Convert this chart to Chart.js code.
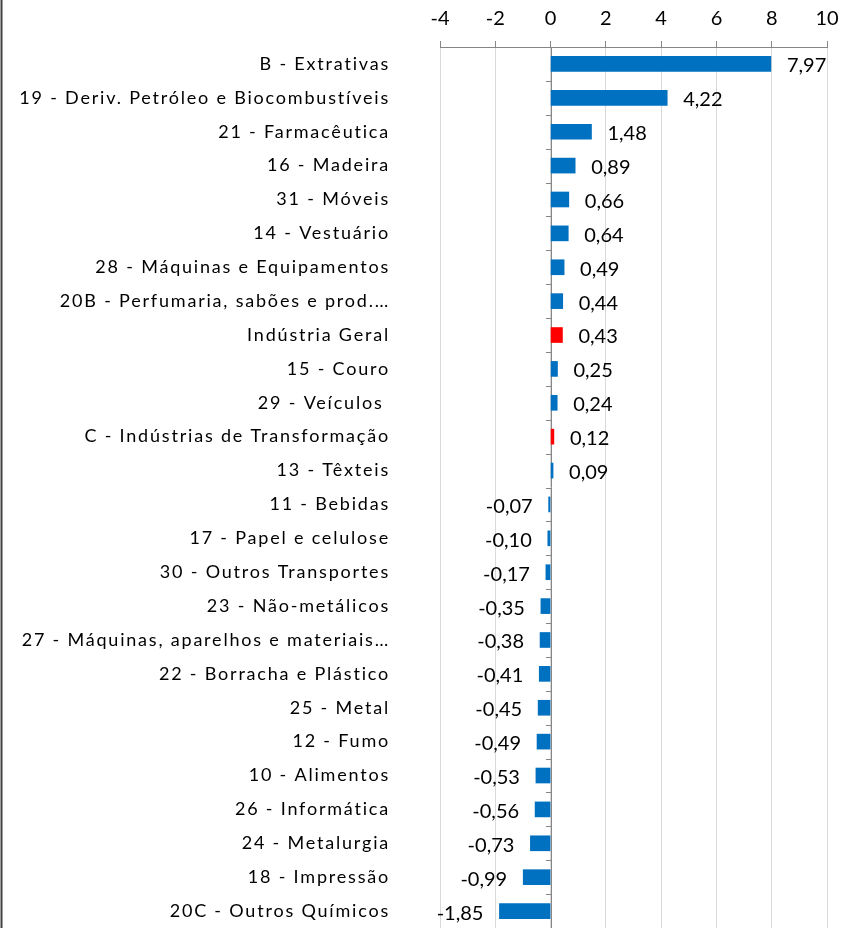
<!DOCTYPE html>
<html>
<head>
<meta charset="utf-8">
<script src="https://cdn.jsdelivr.net/npm/chart.js@4/dist/chart.umd.min.js"></script>
<style>
  html, body { margin: 0; padding: 0; background: #fff; overflow: hidden; }
  #wrap { width: 851px; height: 928px; position: relative; }
</style>
</head>
<body>
<div id="wrap"><canvas id="setores" width="851" height="928"></canvas></div>
<script>
const canvasId = 'setores';

const categories = [
    'B - Extrativas',
    '19 - Deriv. Petróleo e Biocombustíveis',
    '21 - Farmacêutica',
    '16 - Madeira',
    '31 - Móveis',
    '14 - Vestuário',
    '28 - Máquinas e Equipamentos',
    '20B - Perfumaria, sabões e prod.…',
    'Indústria Geral',
    '15 - Couro',
    '29 - Veículos ',
    'C - Indústrias de Transformação',
    '13 - Têxteis',
    '11 - Bebidas',
    '17 - Papel e celulose',
    '30 - Outros Transportes',
    '23 - Não-metálicos',
    '27 - Máquinas, aparelhos e materiais…',
    '22 - Borracha e Plástico',
    '25 - Metal',
    '12 - Fumo',
    '10 - Alimentos',
    '26 - Informática',
    '24 - Metalurgia',
    '18 - Impressão',
    '20C - Outros Químicos'
];

const values = [7.97, 4.22, 1.48, 0.89, 0.66, 0.64, 0.49, 0.44, 0.43, 0.25, 0.24, 0.12, 0.09,
    -0.07, -0.10, -0.17, -0.35, -0.38, -0.41, -0.45, -0.49, -0.53, -0.56, -0.73, -0.99, -1.85];

// categories drawn in red
const highlighted = ['Indústria Geral', 'C - Indústrias de Transformação'];

const xTicks = [-4, -2, 0, 2, 4, 6, 8, 10];

var barColors = categories.map(function(c) {
    return highlighted.indexOf(c) >= 0 ? '#FF0000' : '#0070C0';
});

// zero line with small marks between rows, plus the left frame line
const zeroAxis = {
    id: 'zeroAxis',
    beforeDatasetsDraw(chart) {
        var ctx = chart.ctx;
        var x = Math.round(chart.scales.x.getPixelForValue(0));
        var area = chart.chartArea;
        var n = categories.length;
        var step = (area.bottom - area.top) / n;
        ctx.save();
        ctx.strokeStyle = '#868686';
        ctx.lineWidth = 1;
        ctx.beginPath();
        ctx.moveTo(x + 0.5, area.top);
        ctx.lineTo(x + 0.5, area.bottom);
        for (var i = 1; i <= n; i++) {
            var y = Math.round(area.top + i * step) + 0.5;
            ctx.moveTo(x - 5, y);
            ctx.lineTo(x + 0.5, y);
        }
        ctx.stroke();
        ctx.strokeStyle = '#404040';
        ctx.lineWidth = 2;
        ctx.beginPath();
        ctx.moveTo(1.5, 0);
        ctx.lineTo(1.5, chart.height);
        ctx.stroke();
        ctx.restore();
    }
};

const valueLabels = {
    id: 'valueLabels',
    afterDatasetsDraw(chart) {
        var ctx = chart.ctx;
        var meta = chart.getDatasetMeta(0);
        ctx.save();
        ctx.font = '20px Lato';
        ctx.fillStyle = '#000';
        ctx.textBaseline = 'middle';
        meta.data.forEach(function(bar, i) {
            var v = values[i];
            var txt = v.toFixed(2).replace('.', ',');
            if (v >= 0) {
                ctx.textAlign = 'left';
                ctx.fillText(txt, bar.x + 16, bar.y + 2);
            } else {
                ctx.textAlign = 'right';
                ctx.fillText(txt, bar.x - 16, bar.y + 2);
            }
        });
        ctx.restore();
    }
};

// Excel spreads the category text out a bit; mimic with letter spacing
const spacedLabels = {
    id: 'spacedLabels',
    afterLayout(chart) {
        var ys = chart.scales.y;
        if (ys._spaced) return;
        ys._spaced = true;
        var orig = ys.drawLabels;
        ys.drawLabels = function(area) {
            this.ctx.save();
            this.ctx.letterSpacing = '1.8px';
            orig.call(this, area);
            this.ctx.restore();
        };
    }
};

var ctx = document.getElementById(canvasId).getContext('2d');
window[canvasId] = new Chart(ctx, {
    type: 'bar',
    data: {
        labels: categories,
        datasets: [{
            data: values,
            backgroundColor: barColors,
            borderWidth: 0,
            barThickness: 15
        }]
    },
    options: {
        indexAxis: 'y',
        responsive: false,
        animation: false,
        devicePixelRatio: 1,
        layout: { padding: { left: 0, right: 24, top: 0, bottom: 0 } },
        plugins: {
            legend: { display: false },
            tooltip: { enabled: false }
        },
        scales: {
            x: {
                position: 'top',
                min: -4,
                max: 10,
                afterBuildTicks: function(scale) {
                    scale.ticks = xTicks.map(function(v) { return { value: v }; });
                },
                afterFit: function(scale) { scale.height = 47; },
                ticks: {
                    font: { family: 'Lato', size: 20 },
                    color: '#000',
                    padding: 10
                },
                grid: {
                    color: '#d9d9d9',
                    tickColor: '#868686',
                    tickLength: 6
                },
                border: { color: '#868686', width: 1 }
            },
            y: {
                afterFit: function(scale) {
                    scale.width = 440;
                    scale.paddingTop = 0;
                    scale.paddingBottom = 0;
                },
                grid: { display: false, drawTicks: false },
                border: { display: false },
                ticks: {
                    font: { family: 'Lato', size: 18 },
                    color: '#000',
                    padding: 50,
                    autoSkip: false
                }
            }
        }
    },
    plugins: [zeroAxis, valueLabels, spacedLabels]
});
</script>
</body>
</html>
